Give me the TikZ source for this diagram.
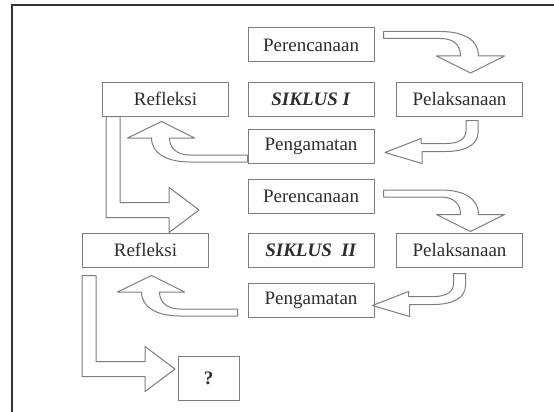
\documentclass[tikz,border=0pt]{standalone}
\usepackage{fontspec}
\setmainfont{Liberation Serif}
\usetikzlibrary{calc}
\definecolor{linegray}{RGB}{125,125,125}
\definecolor{textgray}{RGB}{45,45,45}
\tikzstyle{box}=[rectangle, draw=linegray, line width=1pt, fill=white, minimum width=126pt, minimum height=34pt, inner sep=0pt, text=textgray, font=\fontsize{19}{22}\selectfont, anchor=center]
\tikzstyle{blockarrow}=[draw=linegray, line width=1pt, fill=white, line join=round]
\tikzstyle{frameline}=[draw=black!80, line width=2.2pt]
% curved arrows, drawn around a start point
\newcommand{\rightdown}[1]
{
  \begin{scope}[shift={(#1)}]
    \draw[blockarrow] (0,-3.5) -- (57,-3.5) .. controls (82,-3.5) and (95,6) .. (95,21) -- (121,21) -- (87,38) -- (53,21) -- (77,21) .. controls (77,10) and (70,3.5) .. (57,3.5) -- (0,3.5) -- cycle;
  \end{scope}
}
\newcommand{\downleft}[1]
{
  \begin{scope}[shift={(#1)}]
    \draw[blockarrow] (-6,0) -- (6,0) -- (6,12) .. controls (6,25) and (-8,31) .. (-26,31) -- (-50,31) -- (-50,43) -- (-87,32) -- (-51,18) -- (-51,23) -- (-26,23) .. controls (-14,23) and (-6,19) .. (-6,10) -- cycle;
  \end{scope}
}
\newcommand{\leftup}[1]
{
  \begin{scope}[shift={(#1)}]
    \draw[blockarrow] (0,-3.5) -- (-58,-3.5) .. controls (-70,-3.5) and (-78,-10) .. (-78,-20.5) -- (-53,-20.5) -- (-86,-37) -- (-120,-20.5) -- (-96,-20.5) .. controls (-96,-5) and (-80,3.5) .. (-58,3.5) -- (0,3.5) -- cycle;
  \end{scope}
}
\newcommand{\downright}[1]
{
  \begin{scope}[shift={(#1)}]
    \draw[blockarrow] (-7,0) -- (-7,101) -- (56,101) -- (56,116) -- (86,93.5) -- (56,71) -- (56,86) -- (7,86) -- (7,0) -- cycle;
  \end{scope}
}

\begin{document}
\begin{tikzpicture}[x=1pt, y=-1pt]
	\useasboundingbox (0,0) rectangle (554,412);
	\draw[frameline] (12,412) -- (12,5) -- (554,5);

	% siklus I
	\node[box](per1) at (311,45){Perencanaan};
	\node[box](ref1) at (165.5,99){Refleksi};
	\node[box](sik1) at (311,99){\textbf{\textit{SIKLUS I}}};
	\node[box](pel1) at (459.5,99){Pelaksanaan};
	\node[box](pen1) at (311,146.5){Pengamatan};

	% siklus II
	\node[box](per2) at (311,196){Perencanaan};
	\node[box](ref2) at (145.5,250){Refleksi};
	\node[box](sik2) at (311,250){\textbf{\textit{SIKLUS\ \ II}}};
	\node[box](pel2) at (459.5,250){Pelaksanaan};
	\node[box](pen2) at (311,300){Pengamatan};

	\node[box, minimum width=61pt, minimum height=44pt](q) at (208.5,378){\textbf{?}};

	\rightdown{$(per1.east)+(9,-10)$}
	\downleft{$(pel1.south)+(12.5,4)$}
	\leftup{$(pen1.west)+(0,12)$}
	\downright{$(ref1.south west)+(11,0)$}

	\rightdown{$(per2.east)+(9,-2.5)$}
	\downleft{$(pel2.south)+(0,6)$}
	\leftup{$(pen2.west)+(-10,12.5)$}
	\downright{$(ref2.south west)+(7,8)$}
\end{tikzpicture}
\end{document}
